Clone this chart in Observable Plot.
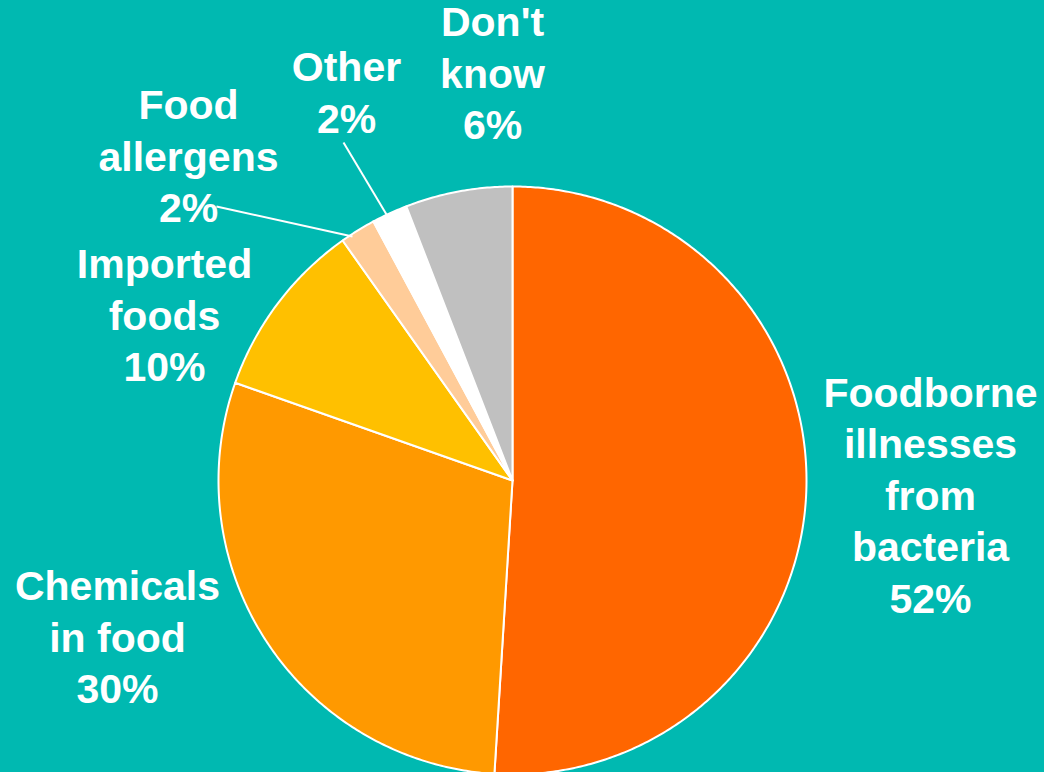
<!DOCTYPE html>
<html>
<head>
<meta charset="utf-8">
<script src="https://cdn.jsdelivr.net/npm/d3@7"></script>
<script src="https://cdn.jsdelivr.net/npm/@observablehq/plot@0.6"></script>
<style>
  html, body { margin: 0; padding: 0; background: #00B9B1; }
  #chart { width: 1044px; height: 772px; overflow: hidden; }
</style>
</head>
<body>
<div id="chart"></div>
<script>
// ---- data ----
const categories = ["Foodborne illnesses from bacteria", "Chemicals in food", "Imported foods", "Food allergens", "Other", "Don't know"];
const values = [52, 30, 10, 2, 2, 6];
const labels = ["Foodborne\nillnesses\nfrom\nbacteria\n52%", "Chemicals\nin food\n30%", "Imported\nfoods\n10%", "Food\nallergens\n2%", "Other\n2%", "Don't\nknow\n6%"];
const colors = ["#FF6600", "#FF9900", "#FFC000", "#FFCC99", "#FFFFFF", "#C0C0C0"];

// ---- layout (pixel space) ----
const cx = 512, cy = 480, radius = 294;
const labelX = [930, 117, 164, 188, 346, 492];
const labelY = [493, 635, 313, 154, 90, 71];
const leaderCats = ["Food allergens", "Other"];
const leaderX1 = [216, 343];
const leaderY1 = [206, 142];
const leaderX2 = [352, 386];
const leaderY2 = [236, 214];

const arcs = d3.pie().sort(null).value(d => d)(values);
const points = [];
arcs.forEach((a, i) => {
  const cat = categories[i];
  points.push({cat, x: cx, y: cy});
  const n = Math.max(2, Math.ceil((a.endAngle - a.startAngle) / (Math.PI / 360)));
  for (let k = 0; k <= n; k++) {
    const t = a.startAngle + (a.endAngle - a.startAngle) * k / n;
    points.push({cat, x: cx + radius * Math.sin(t), y: cy - radius * Math.cos(t)});
  }
  points.push({cat, x: cx, y: cy});
});

const labelData = categories.map((c, i) => ({cat: c, text: labels[i], x: labelX[i], y: labelY[i]}));
const leaders = leaderCats.map((c, i) => ({cat: c, x1: leaderX1[i], y1: leaderY1[i], x2: leaderX2[i], y2: leaderY2[i]}));

const chart = Plot.plot({
  width: 1044,
  height: 772,
  margin: 0,
  style: {background: "#00B9B1", fontFamily: "'Liberation Sans', Arial, sans-serif"},
  x: {domain: [0, 1044], range: [0, 1044], axis: null},
  y: {domain: [0, 772], range: [0, 772], axis: null},
  color: {domain: categories, range: colors},
  marks: [
    Plot.line(points, {x: "x", y: "y", z: "cat", fill: "cat", stroke: "white", strokeWidth: 2, curve: "linear-closed", strokeLinejoin: "round"}),
    Plot.link(leaders, {x1: "x1", y1: "y1", x2: "x2", y2: "y2", stroke: "white", strokeWidth: 2}),
    Plot.text(labelData, {x: "x", y: "y", text: "text", fill: "white", fontSize: 41, fontWeight: "bold", lineHeight: 1.256, textAnchor: "middle", lineAnchor: "middle"})
  ]
});
document.getElementById("chart").appendChild(chart);
</script>
</body>
</html>
